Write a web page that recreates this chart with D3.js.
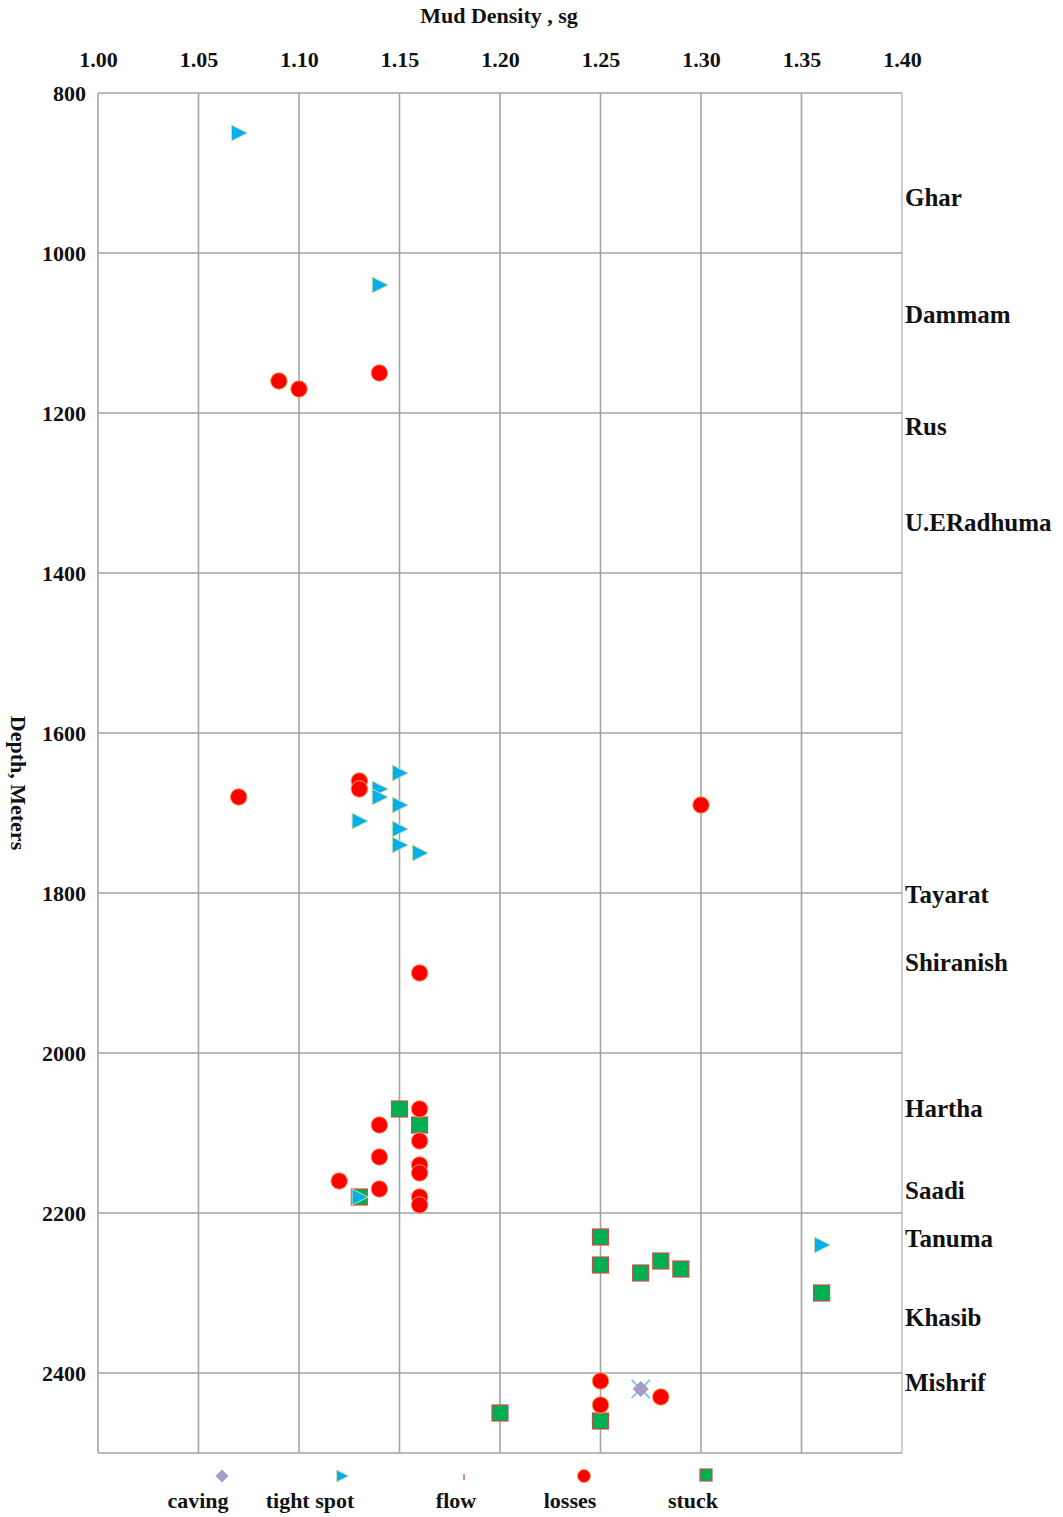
<!DOCTYPE html>
<html>
<head>
<meta charset="utf-8">
<script src="https://cdn.jsdelivr.net/npm/d3@7"></script>
<style>
  body { margin: 0; background: #fff; }
  text { font-family: "Liberation Serif", "DejaVu Serif", serif; font-weight: bold; fill: #111; }
</style>
</head>
<body>
<div class="svg-container"></div>
<script>
// mud density (sg) vs depth (m) for each drilling problem
const caving = [[1.27, 2420]]
const tightSpot = [
  [1.07, 850], [1.14, 1040],
  [1.15, 1650], [1.14, 1670], [1.14, 1680], [1.15, 1690], [1.13, 1710],
  [1.15, 1720], [1.15, 1740], [1.16, 1750],
  [1.13, 2180], [1.36, 2240]
]
const flow = []
const losses = [
  [1.09, 1160], [1.10, 1170], [1.14, 1150],
  [1.07, 1680], [1.13, 1660], [1.13, 1670], [1.30, 1690],
  [1.16, 1900],
  [1.16, 2070], [1.14, 2090], [1.16, 2110], [1.14, 2130], [1.16, 2140], [1.16, 2150],
  [1.12, 2160], [1.14, 2170], [1.16, 2180], [1.16, 2190],
  [1.25, 2410], [1.25, 2440], [1.28, 2430]
]
const stuck = [
  [1.15, 2070], [1.16, 2090], [1.13, 2180],
  [1.25, 2230], [1.25, 2265], [1.27, 2275], [1.28, 2260], [1.29, 2270], [1.36, 2300],
  [1.20, 2450], [1.25, 2460]
]

const formations = ['Ghar', 'Dammam', 'Rus', 'U.ERadhuma', 'Tayarat', 'Shiranish',
  'Hartha', 'Saadi', 'Tanuma', 'Khasib', 'Mishrif']
const formationDepths = [930, 1076, 1217, 1337, 1801, 1886, 2069, 2171, 2232, 2330, 2412]

const xTicks = [1.00, 1.05, 1.10, 1.15, 1.20, 1.25, 1.30, 1.35, 1.40]
const yTicks = [800, 1000, 1200, 1400, 1600, 1800, 2000, 2200, 2400]

const W = 1063, H = 1517
const svg = d3.select('.svg-container').append('svg')
  .attr('width', W)
  .attr('height', H)

const x = d3.scaleLinear().domain([1.0, 1.4]).range([98, 902])
const y = d3.scaleLinear().domain([800, 2500]).range([93, 1453])

// grid
const grid = svg.append('g')
grid.selectAll('.vgrid')
  .data(xTicks)
  .enter().append('line')
  .attr('x1', d => x(d)).attr('x2', d => x(d))
  .attr('y1', y(800)).attr('y2', y(2500))
  .attr('stroke', (d, i) => i === xTicks.length - 1 ? '#c4c4c4' : '#a3a3a3')
  .attr('stroke-width', 1.6)
grid.selectAll('.hgrid')
  .data(yTicks.concat([2500]))
  .enter().append('line')
  .attr('x1', x(1.0)).attr('x2', x(1.4))
  .attr('y1', d => y(d)).attr('y2', d => y(d))
  .attr('stroke', '#a3a3a3')
  .attr('stroke-width', 1.6)

// axes (labels only, lines come from the grid)
const xAxis = svg.append('g')
  .attr('transform', 'translate(0,' + 70 + ')')
  .call(d3.axisTop(x).tickValues(xTicks).tickFormat(d3.format('.2f')).tickSize(0))
xAxis.select('.domain').remove()
xAxis.selectAll('text').attr('font-size', 22).style('font-family', null)

const yAxis = svg.append('g')
  .attr('transform', 'translate(' + 86 + ',0)')
  .call(d3.axisLeft(y).tickValues(yTicks).tickFormat(d3.format('d')).tickSize(0).tickPadding(0))
yAxis.select('.domain').remove()
yAxis.selectAll('text').attr('font-size', 22).style('font-family', null)

svg.append('text')
  .attr('x', 499).attr('y', 23)
  .attr('text-anchor', 'middle')
  .attr('font-size', 22)
  .text('Mud Density , sg')

svg.append('text')
  .attr('transform', 'translate(11,783) rotate(90)')
  .attr('text-anchor', 'middle')
  .attr('font-size', 22)
  .text('Depth, Meters')

// formation names
svg.selectAll('.formation')
  .data(formations)
  .enter().append('text')
  .attr('class', 'formation')
  .attr('x', 905)
  .attr('y', (d, i) => y(formationDepths[i]))
  .attr('dy', '0.35em')
  .attr('font-size', 25)
  .text(d => d)

// marker shapes
const triPath = s => 'M' + (-0.45 * s) + ',' + (-0.5 * s) + 'L' + (0.55 * s) + ',0L' + (-0.45 * s) + ',' + (0.5 * s) + 'Z'
const diaPath = s => 'M0,' + (-s / 2) + 'L' + (s / 2) + ',0L0,' + (s / 2) + 'L' + (-s / 2) + ',0Z'
const xs = d3.symbol().type(d3.symbolX).size(220)

const marks = svg.append('g')

marks.selectAll('.stuck')
  .data(stuck)
  .enter().append('rect')
  .attr('x', d => x(d[0]) - 8)
  .attr('y', d => y(d[1]) - 8)
  .attr('width', 16).attr('height', 16)
  .attr('fill', '#00b050')
  .attr('stroke', '#c0504d')
  .attr('stroke-width', 1.2)

marks.selectAll('.losses')
  .data(losses)
  .enter().append('circle')
  .attr('cx', d => x(d[0]))
  .attr('cy', d => y(d[1]))
  .attr('r', 8.3)
  .attr('fill', '#ff0000')
  .attr('stroke', '#f5a15a')
  .attr('stroke-width', 1)

marks.selectAll('.tight')
  .data(tightSpot)
  .enter().append('path')
  .attr('transform', d => 'translate(' + x(d[0]) + ',' + y(d[1]) + ')')
  .attr('d', triPath(16))
  .attr('fill', '#00b0f0')
  .attr('stroke', '#cfe0a0')
  .attr('stroke-width', 1)

marks.selectAll('.cavingx')
  .data(caving)
  .enter().append('path')
  .attr('transform', d => 'translate(' + x(d[0]) + ',' + y(d[1]) + ')')
  .attr('d', xs).attr('fill', 'none').attr('stroke', '#7cc8e2').attr('stroke-width', 2)
marks.selectAll('.caving')
  .data(caving)
  .enter().append('path')
  .attr('transform', d => 'translate(' + x(d[0]) + ',' + y(d[1]) + ')')
  .attr('d', diaPath(16)).attr('fill', '#a79cc4')

// legend
const legendItems = [
  { name: 'caving', mx: 222, tx: 198 },
  { name: 'tight spot', mx: 343, tx: 310 },
  { name: 'flow', mx: 464, tx: 456 },
  { name: 'losses', mx: 584, tx: 570 },
  { name: 'stuck', mx: 706, tx: 693 }
]
const legend = svg.append('g')
legend.selectAll('text')
  .data(legendItems)
  .enter().append('text')
  .attr('x', d => d.tx)
  .attr('y', 1508)
  .attr('text-anchor', 'middle')
  .attr('font-size', 22)
  .text(d => d.name)

const ly = 1476
legend.append('path')
  .attr('transform', 'translate(222,' + ly + ')')
  .attr('d', diaPath(13)).attr('fill', '#a79cc4')
legend.append('path')
  .attr('transform', 'translate(342,' + ly + ')')
  .attr('d', triPath(12))
  .attr('fill', '#00b0f0').attr('stroke', '#cfe0a0').attr('stroke-width', 1)
legend.append('rect')
  .attr('x', 463).attr('y', ly - 2).attr('width', 2).attr('height', 6)
  .attr('fill', '#e08a96')
legend.append('circle')
  .attr('cx', 584).attr('cy', ly).attr('r', 6.5)
  .attr('fill', '#ff0000').attr('stroke', '#f5a15a').attr('stroke-width', 1)
legend.append('rect')
  .attr('x', 700).attr('y', ly - 7).attr('width', 12).attr('height', 12)
  .attr('fill', '#00b050').attr('stroke', '#c0504d').attr('stroke-width', 1.2)
</script>
</body>
</html>
